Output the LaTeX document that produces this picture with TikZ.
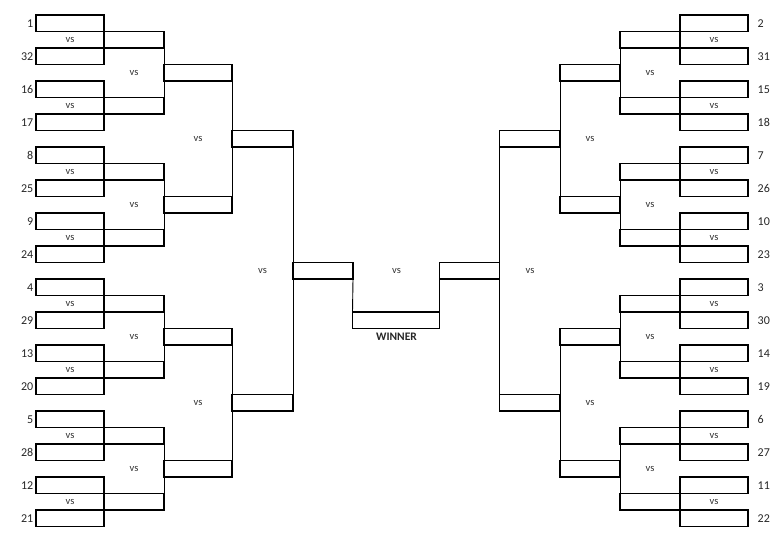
\documentclass[tikz,border=0pt]{standalone}
\usepackage{fontspec}
\setmainfont{Carlito}
\tikzset{
  box/.style={draw, line width=1.8bp, minimum height=16.5bp, outer sep=0pt, inner sep=0pt},
  link/.style={line width=0.9bp},
  seed/.style={font=\fontsize{12bp}{13bp}\selectfont, inner sep=0pt, text=black!85},
  vslabel/.style={font=\fontsize{10.5bp}{11bp}\selectfont, inner sep=0pt, text=black!80},
  winlabel/.style={font=\bfseries\fontsize{11.5bp}{12bp}\selectfont, inner sep=0pt, text=black!85},
}
\begin{document}
\begin{tikzpicture}[x=1bp, y=-1bp]
\useasboundingbox (0,0) rectangle (782,545);
% ---------- LEFT ----------
% round 1
\foreach \s [count=\i from 0] in {1,32,16,17,8,25,9,24,4,29,13,20,5,28,12,21} {
  \node[box, minimum width=68bp] (L1-\i) at (70, {15+16.5*(2*\i+0.5)}) {};
  \node[seed, anchor=east] (LS-\i) at (33.5, {15+16.5*(2*\i+0.5)}) {\s};
}
% round 2
\foreach \m in {0,...,7} {
  \node[box, minimum width=60bp] (L2-\m) at (134, {15+16.5*(4*\m+1.5)}) {};
  \node[vslabel] (LV1-\m) at (70, {15+16.5*(4*\m+1.5)}) {vs};
}
% round 3
\foreach \q in {0,...,3} {
  \node[box, minimum width=68bp] (L3-\q) at (198, {15+16.5*(8*\q+3.5)}) {};
  \node[vslabel] (LV2-\q) at (134, {15+16.5*(8*\q+3.5)}) {vs};
}
\foreach \q [evaluate=\q as \a using int(2*\q), evaluate=\q as \b using int(2*\q+1)] in {0,...,3}
  \draw[link] (L2-\a.south east) -- (L2-\b.north east);
% round 4
\foreach \o in {0,1} {
  \node[box, minimum width=61bp] (L4-\o) at (262.5, {15+16.5*(16*\o+7.5)}) {};
  \node[vslabel] (LV3-\o) at (198, {15+16.5*(16*\o+7.5)}) {vs};
}
\foreach \o [evaluate=\o as \a using int(2*\o), evaluate=\o as \b using int(2*\o+1)] in {0,1}
  \draw[link] (L3-\a.south east) -- (L3-\b.north east);
% round 5
\node[box, minimum width=60bp] (L5) at (323, {15+16.5*15.5}) {};
\node[vslabel] (LV4) at (262.5, {15+16.5*15.5}) {vs};
\draw[link] (L4-0.south east) -- (L4-1.north east);
% ---------- RIGHT ----------
\foreach \s [count=\i from 0] in {2,31,15,18,7,26,10,23,3,30,14,19,6,27,11,22} {
  \node[box, minimum width=68bp] (R1-\i) at (714, {15+16.5*(2*\i+0.5)}) {};
  \node[seed, anchor=west] (RS-\i) at (757.5, {15+16.5*(2*\i+0.5)}) {\s};
}
\foreach \m in {0,...,7} {
  \node[box, minimum width=60bp] (R2-\m) at (650, {15+16.5*(4*\m+1.5)}) {};
  \node[vslabel] (RV1-\m) at (714, {15+16.5*(4*\m+1.5)}) {vs};
}
\foreach \q in {0,...,3} {
  \node[box, minimum width=60bp] (R3-\q) at (590, {15+16.5*(8*\q+3.5)}) {};
  \node[vslabel] (RV2-\q) at (650, {15+16.5*(8*\q+3.5)}) {vs};
}
\foreach \q [evaluate=\q as \a using int(2*\q), evaluate=\q as \b using int(2*\q+1)] in {0,...,3}
  \draw[link] (R2-\a.south west) -- (R2-\b.north west);
\foreach \o in {0,1} {
  \node[box, minimum width=60bp] (R4-\o) at (529.5, {15+16.5*(16*\o+7.5)}) {};
  \node[vslabel] (RV3-\o) at (590, {15+16.5*(16*\o+7.5)}) {vs};
}
\foreach \o [evaluate=\o as \a using int(2*\o), evaluate=\o as \b using int(2*\o+1)] in {0,1}
  \draw[link] (R3-\a.south west) -- (R3-\b.north west);
\node[box, minimum width=60bp] (R5) at (469.5, {15+16.5*15.5}) {};
\node[vslabel] (RV4) at (530, {15+16.5*15.5}) {vs};
\draw[link] (R4-0.south west) -- (R4-1.north west);
% ---------- FINAL ----------
\node[box, minimum width=87bp] (W) at (396, {15+16.5*18.5}) {};
\node[vslabel] (FV) at (396.5, {15+16.5*15.5}) {vs};
\node[winlabel] (WL) at (396.5, 336.5) {WINNER};
\draw[link] (L5.south east) -- (W.north west);
\draw[link] (R5.south west) -- (W.north east);
\end{tikzpicture}
\end{document}
